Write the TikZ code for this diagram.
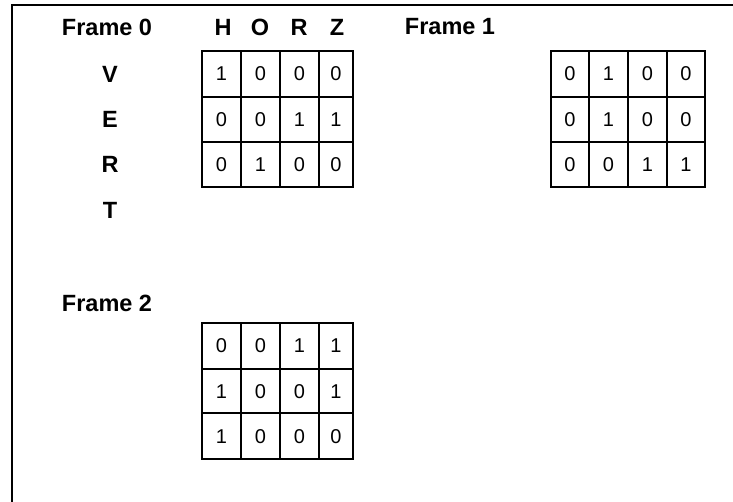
\documentclass[tikz,border=0pt]{standalone}
\usepackage{fontspec}
\setmainfont{Liberation Sans}
\newcommand\mxrow[6]{% #1 name, #2 row, #3 ytop, #4 h, #5 x/w list, #6 values
  \foreach \cx/\cw [count=\c] in {#5} {
    \pgfmathtruncatemacro\cv{{#6}[\c-1]}
    \node[cellbox, minimum width=\cw pt, minimum height=#4pt] (#1-#2-\c) at (\cx,#3) {\cv};
  }%
}
\begin{document}
\begin{tikzpicture}[x=1pt,y=-1pt,
  cellbox/.style={draw, line width=1.7pt, anchor=north west, inner sep=0pt, outer sep=0pt,
    font=\fontsize{20}{20}\selectfont},
  lbl/.style={font=\fontsize{23.5}{23.5}\selectfont\bfseries, inner sep=0pt}]
\useasboundingbox (0,0) rectangle (733,502);
\draw[line width=2.2pt] (12,503) -- (12,5) -- (734,5);
\node[lbl] (f0) at (107,27) {Frame 0};
\node[lbl] (f1) at (450,27) {Frame 1};
\node[lbl] (f2) at (107,303) {Frame 2};
\node[lbl] (lh) at (223,27) {H};
\node[lbl] (lo) at (260,27) {O};
\node[lbl] (lr) at (299,27) {R};
\node[lbl] (lz) at (337,27) {Z};
\node[lbl] (lv) at (110,74) {V};
\node[lbl] (le) at (110,119) {E};
\node[lbl] (lr2) at (110,164) {R};
\node[lbl] (lt) at (110,210) {T};
% Frame 0
\mxrow{a}{1}{51}{46}{202/39,241/39,280/39,319/34}{1,0,0,0}
\mxrow{a}{2}{97}{44.7}{202/39,241/39,280/39,319/34}{0,0,1,1}
\mxrow{a}{3}{141.7}{45}{202/39,241/39,280/39,319/34}{0,1,0,0}
% Frame 1
\mxrow{b}{1}{51}{46}{551/38,589/39,628/39,667/38}{0,1,0,0}
\mxrow{b}{2}{97}{44.7}{551/38,589/39,628/39,667/38}{0,1,0,0}
\mxrow{b}{3}{141.7}{45}{551/38,589/39,628/39,667/38}{0,0,1,1}
% Frame 2
\mxrow{c}{1}{322.7}{46.6}{202/39,241/39,280/39,319/34}{0,0,1,1}
\mxrow{c}{2}{369.3}{44}{202/39,241/39,280/39,319/34}{1,0,0,1}
\mxrow{c}{3}{413.3}{45.7}{202/39,241/39,280/39,319/34}{1,0,0,0}
\end{tikzpicture}
\end{document}
